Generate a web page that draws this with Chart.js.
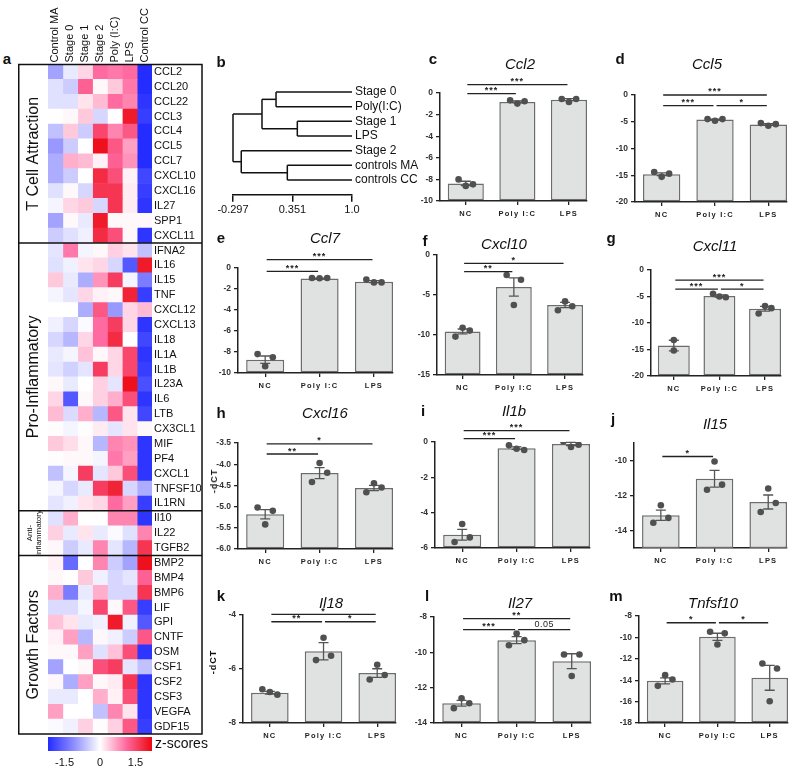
<!DOCTYPE html>
<html>
<head>
<meta charset="utf-8">
<title>Cytokine heatmap and qPCR panels</title>
<script src="https://cdn.jsdelivr.net/npm/chart.js@4.4.1/dist/chart.umd.min.js"></script>
<style>
  html, body { margin: 0; padding: 0; background: #fff; }
  body { position: relative; width: 793px; height: 770px; overflow: hidden; font-family: "Liberation Sans", Arial, sans-serif; color: #111; }
  canvas { position: absolute; }
  .tag { position: absolute; font-weight: bold; font-size: 15px; transform: translate(-50%, -50%); }
  .gene { position: absolute; font-style: italic; font-size: 15px; transform: translate(-50%, -50%); white-space: nowrap; }
  .ylab { position: absolute; font-weight: bold; font-size: 9px; letter-spacing: 1px; white-space: nowrap; transform: translate(-50%, -50%) rotate(-90deg); }
</style>
</head>
<body>
<script>
// ---------- heatmap (a) ----------
const genes = ['CCL2', 'CCL20', 'CCL22', 'CCL3', 'CCL4', 'CCL5', 'CCL7', 'CXCL10', 'CXCL16', 'IL27', 'SPP1', 'CXCL11',
  'IFNA2', 'IL16', 'IL15', 'TNF', 'CXCL12', 'CXCL13', 'IL18', 'IL1A', 'IL1B', 'IL23A', 'IL6', 'LTB', 'CX3CL1', 'MIF', 'PF4', 'CXCL1', 'TNFSF10', 'IL1RN',
  'Il10', 'IL22', 'TGFB2',
  'BMP2', 'BMP4', 'BMP6', 'LIF', 'GPI', 'CNTF', 'OSM', 'CSF1', 'CSF2', 'CSF3', 'VEGFA', 'GDF15'];
const sampleNames = ['Control MA', 'Stage 0', 'Stage 1', 'Stage 2', 'Poly (I:C)', 'LPS', 'Control CC'];
const groupNames = ['T Cell Attraction', 'Pro-Inflammatory', 'Anti-\nInflammatory', 'Growth Factors'];
const groupSizes = [12, 18, 3, 12];

const zControlMA = [-0.9, -0.3, -0.3, 0, -0.6, -1.0, -0.8, -0.8, -0.3, -0.1, -0.9, -0.5,
  -0.25, -0.3, 0.4, -0.1, 0, -0.15, -0.4, -0.2, -0.25, 0.05, 0.3, 0.5, 0.02, 0.4, 0.02, -0.6, -0.1, -0.25,
  -0.3, 0.35, 0.05,
  0.1, 0.05, 0.6, -0.35, 0.45, 0.1, 0.05, -0.9, 0.05, -0.2, 0.7, -0.05];
const zStage0 = [-0.2, -0.5, -0.3, 0.05, 0.4, -0.5, 0.6, -0.5, 0.05, 0.3, 0.05, -0.3,
  1.0, -0.15, -0.2, -0.25, 0, -0.4, -0.7, -0.1, -0.45, -0.2, -1.7, -0.35, -0.1, 0.25, 0.05, -0.1, -0.4, -0.15,
  0.6, -0.2, -0.5,
  -1.5, 0, -1.3, -0.35, 0.2, 0.7, 0.05, 0, -0.8, -0.2, 0, -0.15];
const zStage1 = [0.3, 1.2, 0.2, 0.4, -0.5, 0, 0.5, 0, -0.4, 0.4, -0.2, -0.15,
  -0.1, 0.2, -0.8, 0.3, -0.8, -0.05, 0.3, 0.45, -0.25, 0, 0.05, 0.6, 0.02, 0.05, 0.05, 1.6, -0.2, 0.2,
  0, 0.2, -0.2,
  0, 0.4, -0.2, -0.1, -0.2, -0.7, 0.7, 0.05, 0.7, 0, 0, 0.35];
const zStage2 = [1.1, 0.05, 0.5, -0.4, 1.5, 2.1, 0.1, 1.8, 1.7, -0.4, 2.0, 1.8,
  0.05, 0.3, 0.8, 0.1, 1.3, 1.1, 1.1, 0.05, 1.6, 0.35, 0.35, -0.7, 0.15, -0.7, -0.1, -0.25, 1.6, 0.3,
  0, -0.2, 0.9,
  0.9, -0.15, 0.6, 1.5, -0.15, 0.05, -0.3, 1.4, 0.05, 0.6, -0.6, 0.02];
const zPolyIC = [1.0, 0.4, 1.1, 0, 0.9, 1.3, 1.2, 1.4, 1.7, 1.7, 0.05, 1.4,
  0.35, -0.4, 1.6, 0.05, -1.0, 1.6, 1.8, 0.3, 0.3, -0.25, 0.6, 1.3, -0.25, 0.9, 1.0, 0.4, 1.9, 1.1,
  0.9, -0.05, -0.25,
  -0.5, -0.4, -0.4, 0.05, 2.0, -0.15, 0.45, 1.6, 0.15, 0.1, 0.9, 0.35];
const zLPS = [1.1, 1.0, 0.9, 2.0, 1.3, 0.7, 0.8, 0.1, 0.15, 0.15, 0.05, 0.05,
  0.2, -1.7, -0.1, 1.9, 0.3, 0.3, 0, 1.5, 1.5, 2.1, 1.4, 0.2, 0.2, 0.8, 0.7, 1.4, -0.4, 0.7,
  0.9, -0.3, -0.7,
  -0.9, -0.25, -0.4, 1.3, -0.15, -0.5, 1.4, -0.25, 1.7, 1.4, 0.2, 1.3];
const zControlCC = [-2.2, -2.2, -2.1, -2.0, -2.2, -2.2, -2.2, -1.9, -2.0, -2.1, 0.05, -2.1,
  -0.6, 2.0, -1.3, -2.0, 0.5, -2.1, -1.9, -2.1, -2.0, -1.8, -2.1, -1.9, 0.05, -2.1, -2.1, -2.1, -0.8, -2.0,
  -2.1, 0.9, 1.7,
  2.1, 1.2, 1.7, -2.0, -1.7, 1.3, -2.1, -0.6, -2.1, -2.1, -2.1, -2.0];
const zColumns = [zControlMA, zStage0, zStage1, zStage2, zPolyIC, zLPS, zControlCC];
const zTicks = [-1.5, 0, 1.5];
const zLimit = 2.2;

// ---------- dendrogram (b) ----------
const leafNames = ['Stage 0', 'Poly(I:C)', 'Stage 1', 'LPS', 'Stage 2', 'controls MA', 'controls CC'];
const mergeA = [0, 2, 7, 5, 4, 9];
const mergeB = [1, 3, 8, 6, 10, 11];
const mergeHeight = [0.172, 0.404, 0.019, 0.295, -0.207, -0.297];
const dendroTicks = [-0.297, 0.351, 1.0];
const dendroTickLabels = ['-0.297', '0.351', '1.0'];

// ---------- qPCR bars (c-m), -dCT ----------
const groups = ['NC', 'Poly I:C', 'LPS'];

const ccl2Mean = [-8.37, -0.83, -0.62];
const ccl2Sem = [0.2, 0.09, 0.09];
const ccl2Pts = [[-8.0, -8.6, -8.46], [-0.68, -0.98, -0.77], [-0.55, -0.83, -0.55]];
const ccl2Sig = [[0, 2, '***', 0.77], [0, 1, '***', -0.06]];
const ccl2Ticks = [-10, -8, -6, -4, -2, 0];

const ccl5Mean = [-14.8, -4.6, -5.5];
const ccl5Sem = [0.25, 0.1, 0.15];
const ccl5Pts = [[-14.4, -15.3, -14.7], [-4.5, -4.8, -4.5], [-5.25, -5.75, -5.45]];
const ccl5Sig = [[0, 2, '***', 0], [0, 1, '***', -2.0], [1, 2, '*', -2.0]];
const ccl5Ticks = [-20, -15, -10, -5, 0];

const ccl7Mean = [-8.73, -1.0, -1.3];
const ccl7Sem = [0.35, 0.03, 0.09];
const ccl7Pts = [[-8.2, -9.35, -8.5], [-0.95, -0.97, -0.95], [-1.1, -1.37, -1.37]];
const ccl7Sig = [[0, 2, '***', 0.8], [0, 1, '***', -0.32]];
const ccl7Ticks = [-10, -8, -6, -4, -2, 0];

const cxcl10Mean = [-9.55, -4.0, -6.25];
const cxcl10Sem = [0.3, 1.15, 0.33];
const cxcl10Pts = [[-10.2, -9.1, -9.45], [-2.5, -6.25, -3.1], [-6.9, -5.8, -6.4]];
const cxcl10Sig = [[0, 2, '*', -1.04], [0, 1, '**', -2.08]];
const cxcl10Ticks = [-15, -10, -5, 0];

const cxcl11Mean = [-14.25, -4.9, -7.3];
const cxcl11Sem = [1.0, 0.2, 0.45];
const cxcl11Pts = [[-13.2, -15.2], [-4.5, -5.0, -5.15], [-8.2, -6.8, -7.2]];
const cxcl11Sig = [[0, 2, '***', -1.9], [0, 1, '***', -3.6], [1, 2, '*', -3.6]];
const cxcl11Ticks = [-20, -15, -10, -5, 0];

const cxcl16Mean = [-5.18, -4.21, -4.56];
const cxcl16Sem = [0.11, 0.13, 0.06];
const cxcl16Pts = [[-5.02, -5.42, -5.1], [-4.42, -3.97, -4.2], [-4.66, -4.45, -4.55]];
const cxcl16Sig = [[0, 2, '*', -3.52], [0, 1, '**', -3.76]];
const cxcl16Ticks = [-6.0, -5.5, -5.0, -4.5, -4.0, -3.5];

const il1bMean = [-5.25, -0.35, -0.11];
const il1bSem = [0.3, 0.07, 0.09];
const il1bPts = [[-5.66, -4.64, -5.4], [-0.19, -0.38, -0.45], [0.04, -0.28, -0.15]];
const il1bSig = [[0, 2, '***', 0.64], [0, 1, '***', 0.19]];
const il1bTicks = [-6, -4, -2, 0];

const il15Mean = [-13.13, -11.04, -12.37];
const il15Sem = [0.29, 0.48, 0.4];
const il15Pts = [[-13.56, -12.56, -13.28], [-11.67, -10.06, -11.38], [-12.94, -11.6, -12.43]];
const il15Sig = [[0, 1, '*', -9.77]];
const il15Ticks = [-14, -12, -10];

const il18Mean = [-6.88, -5.34, -6.15];
const il18Sem = [0.05, 0.32, 0.16];
const il18Pts = [[-6.75, -6.85, -6.95], [-5.67, -4.84, -5.51], [-6.39, -5.84, -6.22]];
const il18Sig = [[0, 2, '*', -3.98], [0, 1, '**', -4.25], [1, 2, '*', -4.25]];
const il18Ticks = [-8, -6, -4];

const il27Mean = [-12.88, -9.31, -10.5];
const il27Sem = [0.16, 0.2, 0.42];
const il27Pts = [[-13.16, -12.6, -12.88], [-9.6, -8.94, -9.31], [-10.12, -11.34, -10.12]];
const il27Sig = [[0, 2, '**', -8.09], [0, 1, '***', -8.71], [1, 2, '0.05', -8.71]];
const il27Ticks = [-14, -12, -10, -8];

const tnfsf10Mean = [-14.06, -9.94, -13.78];
const tnfsf10Sem = [0.28, 0.33, 1.16];
const tnfsf10Pts = [[-14.53, -13.53, -13.94], [-9.47, -10.66, -9.62], [-12.44, -15.97, -12.9]];
const tnfsf10Sig = [[0, 1, '*', -8.63], [1, 2, '*', -8.63]];
const tnfsf10Ticks = [-18, -16, -14, -12, -10, -8];

// ---------- layout ----------
const FONT = '"Liberation Sans", Arial, sans-serif';
Chart.defaults.font.family = FONT;
Chart.defaults.color = '#111';

const panels = [
  { tag: 'c', gene: 'Ccl2', mean: ccl2Mean, sem: ccl2Sem, pts: ccl2Pts, sig: ccl2Sig, ticks: ccl2Ticks, box: [440, 93, 587, 201], tagAt: [433, 58], titleAt: [520, 63] },
  { tag: 'd', gene: 'Ccl5', mean: ccl5Mean, sem: ccl5Sem, pts: ccl5Pts, sig: ccl5Sig, ticks: ccl5Ticks, box: [635, 95, 787, 202], tagAt: [620, 58], titleAt: [707, 63] },
  { tag: 'e', gene: 'Ccl7', mean: ccl7Mean, sem: ccl7Sem, pts: ccl7Pts, sig: ccl7Sig, ticks: ccl7Ticks, box: [238, 268, 393, 373], tagAt: [221, 237], titleAt: [325, 237] },
  { tag: 'f', gene: 'Cxcl10', mean: cxcl10Mean, sem: cxcl10Sem, pts: cxcl10Pts, sig: cxcl10Sig, ticks: cxcl10Ticks, box: [437, 255, 583, 375], tagAt: [425, 240], titleAt: [504, 243] },
  { tag: 'g', gene: 'Cxcl11', mean: cxcl11Mean, sem: cxcl11Sem, pts: cxcl11Pts, sig: cxcl11Sig, ticks: cxcl11Ticks, box: [651, 270, 781, 376], tagAt: [611, 237], titleAt: [715, 245] },
  { tag: 'h', gene: 'Cxcl16', mean: cxcl16Mean, sem: cxcl16Sem, pts: cxcl16Pts, sig: cxcl16Sig, ticks: cxcl16Ticks, box: [238, 443, 393, 549], tagAt: [221, 412], titleAt: [325, 412], ylabAt: [214, 481] },
  { tag: 'i', gene: 'Il1b', mean: il1bMean, sem: il1bSem, pts: il1bPts, sig: il1bSig, ticks: il1bTicks, box: [435, 442, 590, 548], tagAt: [423, 410], titleAt: [514, 410] },
  { tag: 'j', gene: 'Il15', mean: il15Mean, sem: il15Sem, pts: il15Pts, sig: il15Sig, ticks: il15Ticks, range: [-15, -9], box: [634, 443, 787, 548], tagAt: [613, 418], titleAt: [715, 423] },
  { tag: 'k', gene: 'Il18', mean: il18Mean, sem: il18Sem, pts: il18Pts, sig: il18Sig, ticks: il18Ticks, box: [243, 615, 396, 723], tagAt: [221, 595], titleAt: [331, 602], ylabAt: [213, 662] },
  { tag: 'l', gene: 'Il27', mean: il27Mean, sem: il27Sem, pts: il27Pts, sig: il27Sig, ticks: il27Ticks, box: [434, 617, 591, 723], tagAt: [427, 595], titleAt: [520, 602] },
  { tag: 'm', gene: 'Tnfsf10', mean: tnfsf10Mean, sem: tnfsf10Sem, pts: tnfsf10Pts, sig: tnfsf10Sig, ticks: tnfsf10Ticks, box: [639, 616, 788, 723], tagAt: [616, 595], titleAt: [713, 602] }
];

function makeCanvas(left, top, w, h) {
  const cv = document.createElement('canvas');
  cv.width = Math.round(w);
  cv.height = Math.round(h);
  cv.style.left = Math.round(left) + 'px';
  cv.style.top = Math.round(top) + 'px';
  cv.style.width = cv.width + 'px';
  cv.style.height = cv.height + 'px';
  document.body.appendChild(cv);
  return cv;
}

function addText(cls, text, at) {
  const el = document.createElement('div');
  el.className = cls;
  el.textContent = text;
  el.style.left = at[0] + 'px';
  el.style.top = at[1] + 'px';
  document.body.appendChild(el);
}

// blue - white - red key, pink in the middle of the red half
function zColor(v) {
  const t = Math.min(1, Math.abs(v) / zLimit);
  const ramp = v >= 0
    ? [[255, 255, 255], [255, 106, 160], [236, 8, 16]]
    : [[255, 255, 255], [142, 142, 255], [36, 44, 255]];
  const lo = t < 0.5 ? ramp[0] : ramp[1];
  const hi = t < 0.5 ? ramp[1] : ramp[2];
  const f = t < 0.5 ? t * 2 : (t - 0.5) * 2;
  const c = lo.map((c0, k) => Math.round(c0 + (hi[k] - c0) * f));
  return `rgb(${c[0]},${c[1]},${c[2]})`;
}

// ---------- a: heatmap ----------
const heatFrame = {
  id: 'heatFrame',
  afterDraw(chart) {
    const { ctx, chartArea: a, scales: { x } } = chart;
    const rowH = (a.bottom - a.top) / genes.length;
    const boxR = 184;
    ctx.save();
    ctx.fillStyle = '#111';

    // sample names above the columns, reading upwards
    ctx.font = '11px ' + FONT;
    ctx.textAlign = 'left';
    ctx.textBaseline = 'middle';
    sampleNames.forEach((name, i) => {
      ctx.save();
      ctx.translate(x.getPixelForValue(i + 0.5), a.top - 2);
      ctx.rotate(-Math.PI / 2);
      ctx.fillText(name, 0, 0);
      ctx.restore();
    });

    // frame, group separators and group names
    ctx.strokeStyle = '#111';
    ctx.lineWidth = 1.5;
    ctx.strokeRect(0.75, a.top, boxR - 0.75, a.bottom - a.top);
    let row = 0;
    groupNames.forEach((name, g) => {
      const y0 = a.top + row * rowH;
      const y1 = y0 + groupSizes[g] * rowH;
      if (row > 0) {
        ctx.beginPath();
        ctx.moveTo(0, y0);
        ctx.lineTo(boxR, y0);
        ctx.stroke();
      }
      const lines = name.split('\n');
      ctx.font = (lines.length > 1 ? '8px ' : '16px ') + FONT;
      ctx.textAlign = 'center';
      lines.forEach((ln, k) => {
        ctx.save();
        ctx.translate(16 + (k - (lines.length - 1) / 2) * 9, (y0 + y1) / 2);
        ctx.rotate(-Math.PI / 2);
        ctx.fillText(ln, 0, 0);
        ctx.restore();
      });
      row += groupSizes[g];
    });

    // colour key
    const cbTop = a.bottom + 3, cbH = 14;
    const toX = v => a.left + (v + zLimit) / (2 * zLimit) * (a.right - a.left);
    const grad = ctx.createLinearGradient(a.left, 0, a.right, 0);
    for (let k = 0; k <= 40; k++) {
      grad.addColorStop(k / 40, zColor(-zLimit + 2 * zLimit * k / 40));
    }
    ctx.fillStyle = grad;
    ctx.fillRect(a.left, cbTop, a.right - a.left, cbH);
    ctx.fillStyle = '#111';
    ctx.font = '14px ' + FONT;
    ctx.textAlign = 'left';
    ctx.fillText('z-scores', a.right + 3, cbTop + cbH / 2);
    ctx.font = '11px ' + FONT;
    ctx.textAlign = 'center';
    zTicks.forEach(v => ctx.fillText(v === 0 ? '0' : v.toFixed(1), toX(v), cbTop + cbH + 12));
    ctx.restore();
  }
};

new Chart(makeCanvas(18, 0, 200, 770), {
  type: 'bar',
  data: {
    labels: genes,
    datasets: zColumns.map((col, i) => ({
      label: sampleNames[i],
      data: col.map(() => 1),
      backgroundColor: col.map(zColor),
      borderWidth: 0,
      barPercentage: 1,
      categoryPercentage: 1
    }))
  },
  options: {
    indexAxis: 'y',
    responsive: false,
    animation: false,
    devicePixelRatio: 1,
    layout: { padding: { left: 30, top: 64.5, right: 0, bottom: 36 } },
    plugins: { legend: { display: false }, tooltip: { enabled: false } },
    scales: {
      x: { type: 'linear', stacked: true, min: 0, max: zColumns.length, display: false },
      y: {
        type: 'category', stacked: true, position: 'right',
        grid: { display: false, drawTicks: false },
        border: { display: false },
        ticks: { autoSkip: false, font: { size: 11 }, color: '#111', padding: 2 },
        afterFit: s => { s.width = 66; }
      }
    }
  },
  plugins: [heatFrame]
});
addText('tag', 'a', [7, 58]);

// ---------- b: dendrogram ----------
const nodeX = leafNames.map(() => 1.0);
const nodeY = leafNames.map((_, i) => i);
const segments = [];
mergeA.forEach((a, k) => {
  const b = mergeB[k], h = mergeHeight[k];
  segments.push([{ x: nodeX[a], y: nodeY[a] }, { x: h, y: nodeY[a] }]);
  segments.push([{ x: nodeX[b], y: nodeY[b] }, { x: h, y: nodeY[b] }]);
  segments.push([{ x: h, y: nodeY[a] }, { x: h, y: nodeY[b] }]);
  nodeX.push(h);
  nodeY.push((nodeY[a] + nodeY[b]) / 2);
});

const leafLabels = {
  id: 'leafLabels',
  afterDraw(chart) {
    const { ctx, chartArea: a, scales: { y } } = chart;
    ctx.save();
    ctx.fillStyle = '#111';
    ctx.font = '12px ' + FONT;
    ctx.textAlign = 'left';
    ctx.textBaseline = 'middle';
    leafNames.forEach((name, i) => ctx.fillText(name, a.right + 3, y.getPixelForValue(i)));
    ctx.restore();
  }
};

new Chart(makeCanvas(200, 70, 228, 150), {
  type: 'scatter',
  data: {
    datasets: segments.map(seg => ({
      data: seg, showLine: true, borderColor: '#111', borderWidth: 1.5, pointRadius: 0, clip: false
    }))
  },
  options: {
    responsive: false,
    animation: false,
    devicePixelRatio: 1,
    layout: { padding: { left: 33, top: 22, right: 76, bottom: 0 } },
    plugins: { legend: { display: false }, tooltip: { enabled: false } },
    scales: {
      x: {
        type: 'linear', min: dendroTicks[0], max: dendroTicks[dendroTicks.length - 1],
        afterBuildTicks: s => { s.ticks = dendroTicks.map(v => ({ value: v })); },
        afterFit: s => { s.height = 25.3; },
        grid: { drawOnChartArea: false, drawTicks: true, tickLength: 7, color: '#111', lineWidth: 1.5 },
        border: { color: '#111', width: 1.5 },
        ticks: { callback: (v, i) => dendroTickLabels[i], font: { size: 11 }, color: '#111', padding: 2, maxRotation: 0 }
      },
      y: { type: 'linear', min: 0, max: leafNames.length, reverse: true, display: false }
    }
  },
  plugins: [leafLabels]
});
addText('tag', 'b', [221, 61]);

// ---------- c-m: bar panels ----------
const xSpan = [-0.5, 2.35];

function drawPanel(p) {
  const [L, T, R, B] = p.box;
  const padL = 30, padT = 42, padR = 4, axisH = 24;
  const cv = makeCanvas(L - padL, T - padT, R - L + padL + padR, B - T + padT + axisH);
  const [yMin, yMax] = p.range || [p.ticks[0], p.ticks[p.ticks.length - 1]];
  const dec = p.ticks.some(t => !Number.isInteger(t)) ? 1 : 0;
  const jitter = n => (n === 3 ? [-0.14, 0, 0.14] : new Array(n).fill(0));
  const dots = [];
  p.pts.forEach((grp, i) => {
    const off = jitter(grp.length);
    grp.forEach((v, k) => dots.push({ x: i + off[k], y: v }));
  });

  const marks = {
    id: 'marks',
    afterDatasetDraw(chart, args) {
      if (args.index !== 0) return;
      const { ctx, scales: { x, y } } = chart;
      ctx.save();
      ctx.strokeStyle = '#555';
      ctx.lineWidth = 1.3;
      p.mean.forEach((m, i) => {
        const px = x.getPixelForValue(i);
        const top = y.getPixelForValue(m + p.sem[i]);
        const bot = y.getPixelForValue(m - p.sem[i]);
        ctx.beginPath();
        ctx.moveTo(px, top); ctx.lineTo(px, bot);
        ctx.moveTo(px - 5, top); ctx.lineTo(px + 5, top);
        ctx.moveTo(px - 5, bot); ctx.lineTo(px + 5, bot);
        ctx.stroke();
      });
      ctx.restore();
    },
    afterDraw(chart) {
      const { ctx, chartArea: a, scales: { x, y } } = chart;
      ctx.save();
      ctx.fillStyle = '#222';
      ctx.textAlign = 'center';
      ctx.textBaseline = 'middle';
      ctx.font = 'bold 7.5px ' + FONT;
      ctx.letterSpacing = '1.2px';
      groups.forEach((g, i) => ctx.fillText(g, x.getPixelForValue(i), a.bottom + 13));
      // significance brackets
      ctx.strokeStyle = '#222';
      ctx.lineWidth = 1.3;
      ctx.textBaseline = 'bottom';
      p.sig.forEach(([from, to, label, level]) => {
        const x1 = x.getPixelForValue(from) + 1.5, x2 = x.getPixelForValue(to) - 1.5;
        const py = y.getPixelForValue(level);
        ctx.beginPath();
        ctx.moveTo(x1, py); ctx.lineTo(x2, py);
        ctx.stroke();
        const stars = label.indexOf('*') === 0;
        ctx.font = (stars ? 'bold 9px ' : '9px ') + FONT;
        ctx.letterSpacing = stars ? '1px' : '0.5px';
        ctx.fillText(label, (x1 + x2) / 2, py + (stars ? 1.5 : -1));
      });
      ctx.restore();
    }
  };

  new Chart(cv, {
    type: 'bar',
    data: {
      datasets: [
        {
          type: 'bar',
          data: p.mean.map((m, i) => ({ x: i, y: m })),
          base: yMin,
          backgroundColor: '#dfe2e1',
          borderColor: '#6c6c6c',
          borderWidth: 1.5,
          borderSkipped: false,
          barPercentage: 0.7,
          categoryPercentage: 1,
          order: 2
        },
        {
          type: 'scatter',
          data: dots,
          pointRadius: 3.3,
          backgroundColor: '#505050',
          borderWidth: 0,
          order: 1
        }
      ]
    },
    options: {
      responsive: false,
      animation: false,
      devicePixelRatio: 1,
      layout: { padding: { left: 0, top: padT, right: padR, bottom: 0 } },
      plugins: { legend: { display: false }, tooltip: { enabled: false } },
      scales: {
        x: {
          type: 'linear', min: xSpan[0], max: xSpan[1], offset: false,
          afterBuildTicks: s => { s.ticks = groups.map((_, i) => ({ value: i })); },
          afterFit: s => { s.height = axisH; },
          grid: { offset: false, drawOnChartArea: false, drawTicks: true, tickLength: 4, color: '#222', lineWidth: 1.3 },
          border: { color: '#222', width: 1.5 },
          ticks: { display: false }
        },
        y: {
          type: 'linear', min: yMin, max: yMax,
          afterBuildTicks: s => { s.ticks = p.ticks.map(v => ({ value: v })); },
          afterFit: s => { s.width = padL; },
          grid: { drawOnChartArea: false, drawTicks: true, tickLength: 4, color: '#222', lineWidth: 1.3 },
          border: { color: '#222', width: 1.5 },
          ticks: { callback: v => v.toFixed(dec), font: { size: 8.5, weight: 'bold' }, color: '#333', padding: 3 }
        }
      }
    },
    plugins: [marks]
  });

  addText('tag', p.tag, p.tagAt);
  addText('gene', p.gene, p.titleAt);
  if (p.ylabAt) addText('ylab', '-dCT', p.ylabAt);
}

panels.forEach(drawPanel);
</script>
</body>
</html>
